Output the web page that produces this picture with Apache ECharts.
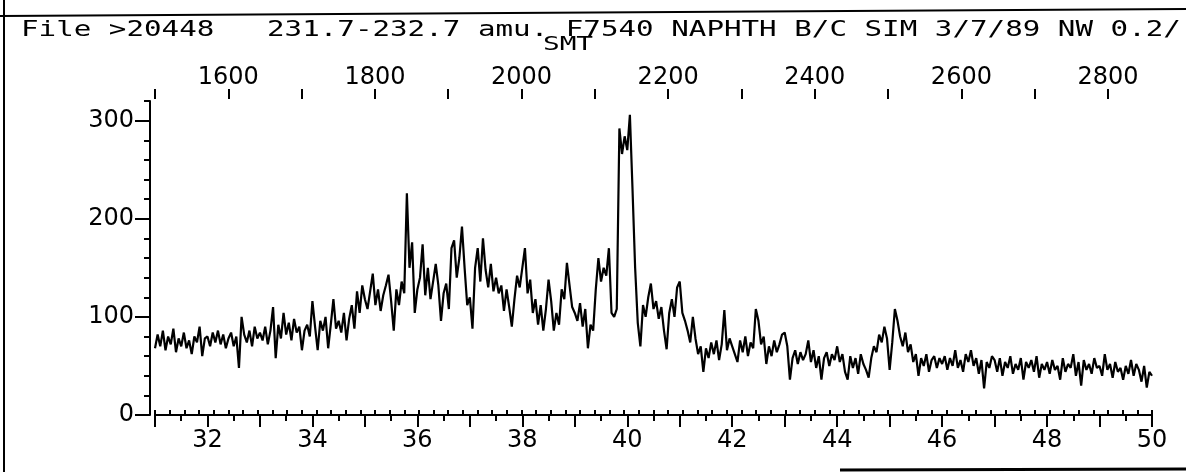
<!DOCTYPE html>
<html>
<head>
<meta charset="utf-8">
<title>SIM 231.7-232.7 amu</title>
<script src="https://cdn.jsdelivr.net/npm/echarts@6/dist/echarts.min.js"></script>
<style>
  html, body { margin: 0; padding: 0; background: #fff; }
  #chart { width: 1186px; height: 472px; }
</style>
</head>
<body>
<div id="chart"></div>
<script>
const headerText = "File >20448   231.7-232.7 amu. F7540 NAPHTH B/C SIM 3/7/89 NW 0.2/";
const subText = "SMT";

// tick labels: retention time (min) below, scan number above, counts on the left
const timeLabels = [32, 34, 36, 38, 40, 42, 44, 46, 48, 50];
const scanTicks = [1500, 1600, 1700, 1800, 1900, 2000, 2100, 2200, 2300, 2400, 2500, 2600, 2700, 2800];
const scanLabels = [1600, 1800, 2000, 2200, 2400, 2600, 2800];
const countLabels = [0, 100, 200, 300];

// abundance, 20 readings per minute (every 0.05 min)
const c31 = [68, 82, 70, 86, 66, 80, 72, 88, 64, 78, 70, 84, 68, 76, 62, 80, 74, 90, 60, 78];
const c32 = [80, 70, 84, 74, 86, 72, 82, 68, 78, 84, 70, 80, 48, 100, 82, 74, 86, 70, 90, 78];
const c33 = [84, 76, 90, 72, 86, 110, 58, 92, 78, 104, 82, 94, 76, 98, 84, 90, 66, 86, 92, 80];
const c34 = [116, 90, 66, 96, 86, 100, 68, 92, 118, 88, 96, 84, 104, 76, 98, 112, 88, 126, 104, 132];
const c35 = [118, 108, 126, 144, 112, 128, 106, 122, 132, 143, 116, 86, 128, 112, 136, 124, 226, 150, 176, 104];
const c36 = [128, 140, 174, 122, 150, 118, 136, 154, 132, 96, 124, 134, 108, 170, 178, 140, 160, 192, 150, 112];
const c37 = [120, 88, 150, 170, 136, 180, 148, 130, 154, 126, 140, 124, 132, 106, 128, 110, 90, 118, 142, 130];
const c38 = [150, 170, 124, 138, 104, 118, 92, 112, 86, 108, 138, 116, 86, 104, 92, 128, 118, 155, 132, 110];
const c39 = [104, 96, 114, 90, 108, 68, 92, 86, 128, 160, 136, 150, 142, 170, 104, 100, 108, 292, 266, 284];
const c40 = [270, 306, 230, 150, 94, 70, 112, 100, 120, 134, 108, 116, 98, 110, 86, 67, 104, 118, 100, 130];
const c41 = [136, 104, 96, 86, 74, 100, 78, 62, 70, 44, 68, 58, 74, 62, 76, 56, 72, 107, 66, 78];
const c42 = [70, 62, 54, 76, 64, 80, 60, 74, 68, 108, 96, 72, 80, 52, 70, 60, 76, 64, 72, 82];
const c43 = [84, 70, 36, 58, 66, 52, 64, 56, 62, 76, 54, 66, 48, 60, 36, 58, 64, 50, 62, 56];
const c44 = [70, 54, 62, 44, 36, 60, 48, 58, 42, 62, 52, 46, 38, 58, 70, 64, 82, 74, 90, 78];
const c45 = [46, 74, 108, 96, 80, 70, 84, 64, 72, 54, 62, 40, 58, 50, 62, 44, 56, 60, 48, 58];
const c46 = [52, 60, 46, 58, 50, 66, 48, 56, 44, 62, 54, 66, 50, 58, 42, 56, 27, 54, 48, 60];
const c47 = [56, 44, 58, 40, 54, 48, 60, 42, 52, 46, 58, 36, 54, 48, 56, 44, 60, 38, 52, 46];
const c48 = [54, 42, 56, 46, 50, 36, 58, 44, 52, 48, 62, 40, 54, 30, 56, 46, 52, 42, 58, 48];
const c49 = [50, 40, 62, 46, 52, 38, 54, 44, 48, 36, 50, 42, 56, 40, 52, 46, 34, 50, 28, 44];
const c50 = [40];

const minutes = [
  [31, c31], [32, c32], [33, c33], [34, c34], [35, c35], [36, c36], [37, c37],
  [38, c38], [39, c39], [40, c40], [41, c41], [42, c42], [43, c43], [44, c44],
  [45, c45], [46, c46], [47, c47], [48, c48], [49, c49], [50, c50]
];
const trace = [];
minutes.forEach(([m, vals]) => {
  vals.forEach((v, i) => trace.push([m + i / 20, v]));
});

const ink = "#000";
const labelFont = { color: ink, fontSize: 24, fontFamily: "DejaVu Sans" };

const chart = echarts.init(document.getElementById("chart"));
chart.setOption({
  animation: false,
  backgroundColor: "#fff",
  grid: { left: 155, right: 34, top: 101, bottom: 57 },
  xAxis: [
    {
      type: "value",
      position: "bottom",
      min: 31,
      max: 50,
      interval: 1,
      splitLine: { show: false },
      axisLine: { lineStyle: { color: ink, width: 2 } },
      axisTick: { length: 12, lineStyle: { color: ink, width: 2 } },
      minorTick: { show: true, splitNumber: 2, length: 6, lineStyle: { color: ink, width: 2 } },
      axisLabel: {
        ...labelFont,
        margin: 14,
        formatter: (v) => (timeLabels.includes(v) ? String(v) : "")
      }
    },
    {
      // scan number scale, short ticks every 20 scans
      type: "value",
      position: "top",
      offset: 2,
      min: 1500,
      max: 2860,
      interval: 20,
      splitLine: { show: false },
      axisLine: { lineStyle: { color: ink, width: 2 } },
      axisTick: { length: 5, lineStyle: { color: ink, width: 2 } },
      axisLabel: { show: false }
    },
    {
      // long ticks every 100 scans, labels every 200
      type: "value",
      position: "top",
      offset: 2,
      min: 1500,
      max: 2860,
      splitLine: { show: false },
      axisLine: { show: false },
      axisTick: { length: 10, customValues: scanTicks, lineStyle: { color: ink, width: 2 } },
      axisLabel: { ...labelFont, margin: 9, customValues: scanLabels, formatter: (v) => String(v) }
    }
  ],
  yAxis: [
    {
      type: "value",
      position: "left",
      offset: 5,
      min: 0,
      max: 320,
      interval: 20,
      splitLine: { show: false },
      axisLine: { show: true, lineStyle: { color: ink, width: 2 } },
      axisTick: { show: true, length: 6, lineStyle: { color: ink, width: 2 } },
      axisLabel: {
        ...labelFont,
        margin: 16,
        formatter: (v) => (countLabels.includes(v) ? String(v) : "")
      }
    },
    {
      type: "value",
      position: "left",
      offset: 5,
      min: 0,
      max: 320,
      splitLine: { show: false },
      axisLine: { show: false },
      axisTick: { show: true, length: 15, customValues: countLabels, lineStyle: { color: ink, width: 2 } },
      axisLabel: { show: false }
    }
  ],
  series: [
    {
      type: "line",
      xAxisIndex: 0,
      yAxisIndex: 0,
      showSymbol: false,
      lineStyle: { color: ink, width: 2.2 },
      data: trace
    }
  ],
  graphic: [
    { type: "line", shape: { x1: 0, y1: 16, x2: 1186, y2: 9 }, style: { stroke: ink, lineWidth: 2 } },
    { type: "line", shape: { x1: 4, y1: 0, x2: 4, y2: 472 }, style: { stroke: ink, lineWidth: 2 } },
    { type: "line", shape: { x1: 840, y1: 470, x2: 1186, y2: 469 }, style: { stroke: ink, lineWidth: 3 } },
    {
      type: "text",
      x: 21,
      y: 31,
      scaleX: 1.39,
      style: {
        text: headerText,
        fill: ink,
        font: '21px "DejaVu Sans Mono"',
        verticalAlign: "middle"
      }
    },
    {
      type: "text",
      x: 568,
      y: 45,
      scaleX: 1.39,
      style: {
        text: subText,
        fill: ink,
        font: '20px "DejaVu Sans Mono"',
        align: "center",
        verticalAlign: "middle"
      }
    }
  ]
});
</script>
</body>
</html>
